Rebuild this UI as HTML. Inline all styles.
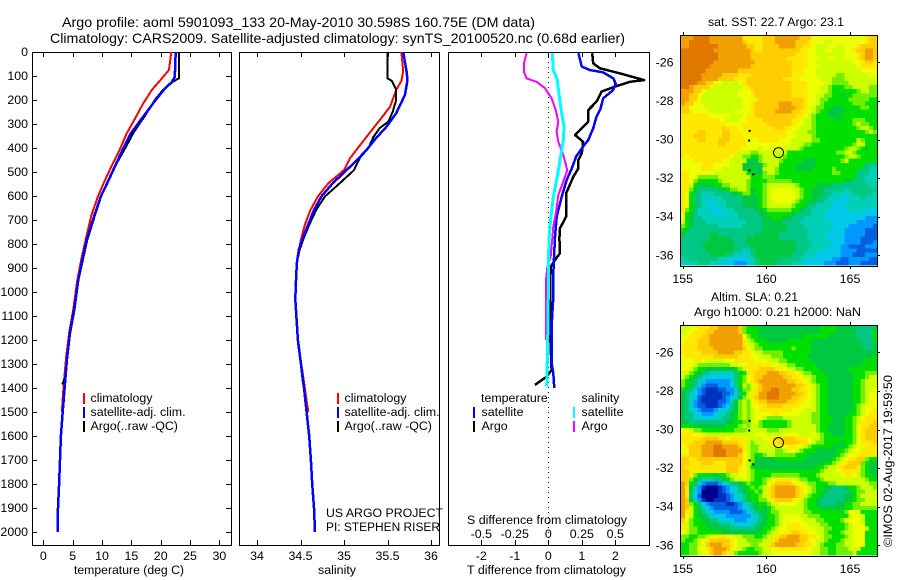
<!DOCTYPE html>
<html lang="en">
<head>
<meta charset="utf-8">
<title>Argo profile 5901093_133</title>
<style>
html,body{margin:0;padding:0;background:#fff;}
svg{display:block;font-family:"Liberation Sans",sans-serif;font-size:12.4px;fill:#000;}
text{fill:#000;}
</style>
</head>
<body>
<svg id="chart" width="900" height="580" viewBox="0 0 900 580" xmlns="http://www.w3.org/2000/svg">
<rect width="900" height="580" fill="#fff"/>
<text x="62" y="27" font-size="14" textLength="473" lengthAdjust="spacingAndGlyphs">Argo profile: aoml 5901093_133 20-May-2010 30.598S 160.75E (DM data)</text>
<text x="50" y="43" font-size="14" textLength="575" lengthAdjust="spacingAndGlyphs">Climatology: CARS2009. Satellite-adjusted climatology: synTS_20100520.nc (0.68d earlier)</text>
<text x="74" y="574" textLength="110" lengthAdjust="spacingAndGlyphs">temperature (deg C)</text>
<text x="318" y="574" textLength="38" lengthAdjust="spacingAndGlyphs">salinity</text>
<text x="467" y="574" textLength="159" lengthAdjust="spacingAndGlyphs">T difference from climatology</text>
<text x="467" y="524" textLength="160" lengthAdjust="spacingAndGlyphs">S difference from climatology</text>
<text x="326" y="517" textLength="117" lengthAdjust="spacingAndGlyphs">US ARGO PROJECT</text>
<text x="326" y="531" textLength="114" lengthAdjust="spacingAndGlyphs">PI: STEPHEN RISER</text>
<text x="708" y="26" textLength="136" lengthAdjust="spacingAndGlyphs">sat. SST: 22.7 Argo: 23.1</text>
<text x="711" y="301" textLength="87" lengthAdjust="spacingAndGlyphs">Altim. SLA: 0.21</text>
<text x="694" y="316" textLength="167" lengthAdjust="spacingAndGlyphs">Argo h1000: 0.21 h2000: NaN</text>
<text transform="translate(892,547) rotate(-90)" textLength="172" lengthAdjust="spacingAndGlyphs">©IMOS 02-Aug-2017 19:59:50</text>
</svg>
<script>
// ---------- profile data (depth in m) ----------
const depthTicks = [0,100,200,300,400,500,600,700,800,900,1000,1100,1200,1300,1400,1500,1600,1700,1800,1900,2000];
const tempTicks = [0,5,10,15,20,25,30];
const salTicks = [34,34.5,35,35.5,36];
const tDiffTicks = [-2,-1,0,1,2];
const sDiffTicks = [-0.5,-0.25,0,0.25,0.5];

const tempClimDepth = [0,20,75,110,158,215,270,339,408,477,540,602,680,783,860,950,1075,1171,1270,1379,1500];
const tempClim = [21.75,21.7,21.4,20.2,18.5,17,15.8,14.2,13,11.6,10.4,9.3,8.2,7.2,6.5,5.8,5.1,4.4,3.9,3.5,3.15];
const tempSatDepth = [0,104,125,153,208,270,339,408,477,540,602,680,783,860,950,1075,1171,1270,1379,1500,1600,1700,1800,1900,2000];
const tempSat = [22.55,22.4,21.9,20.7,18.9,17,14.9,13.5,12.2,11,9.8,8.7,7.4,6.7,5.96,5.28,4.55,4.08,3.7,3.3,3,2.85,2.7,2.5,2.45];
const tempArgoDepth = [0,110,125,158,200,255,339,394,477,540,602,680,783,860,950,1075,1171,1270,1360,1385];
const tempArgo = [23.1,23.1,22,20.4,19,17.6,15.3,14.1,12.2,11,9.85,8.8,7.5,6.8,6,5.2,4.5,4.05,3.7,3.2];

const salClimDepth = [0,80,120,158,228,275,353,442,492,547,602,658,720,783,825,875,930,1030,1200,1400,1500];
const salClim = [35.66,35.68,35.66,35.6,35.53,35.43,35.26,35.07,35,34.82,34.7,34.615,34.55,34.505,34.48,34.46,34.45,34.44,34.47,34.55,34.59];
const salSatDepth = [0,82,117,179,255,311,358,408,450,492,547,602,658,720,783,825,875,930,1030,1200,1400,1500,1600,1700,1800,1900,2000];
const salSat = [35.68,35.72,35.73,35.7,35.6,35.49,35.37,35.26,35.15,35.03,34.87,34.74,34.655,34.586,34.52,34.48,34.46,34.45,34.44,34.47,34.54,34.57,34.6,34.62,34.635,34.655,34.667];
const salArgoDepth = [0,110,120,158,200,249,290,317,353,400,442,492,547,602,658,720,783,825,875,930,1030,1200,1385];
const salArgo = [35.5,35.5,35.55,35.6,35.6,35.56,35.51,35.41,35.34,35.28,35.18,35.115,34.95,34.78,34.68,34.6,34.53,34.49,34.46,34.45,34.44,34.47,34.53];

const tDiffSatDepth = [5,33,61,75,85,110,131,158,193,235,269,318,367,394,436,485,533,603,686,769,922,1019,1144,1297,1339,1401];
const tDiffSat = [0.9,0.95,1,1.24,1.64,1.94,2.01,1.94,1.64,1.56,1.44,1.34,1.19,1.04,0.83,0.7,0.55,0.4,0.25,0.2,0.15,0.15,0.1,0.1,0.15,0.18];
const tDiffArgoDepth = [5,47,68,89,117,124,144,165,207,242,290,318,346,374,422,450,485,519,589,686,735,776,838,867,895,1089,1158,1325,1353,1387];
const tDiffArgo = [1.31,1.34,1.54,2.14,2.86,2.44,1.99,1.59,1.44,1.19,1.19,1,0.8,1.04,1,0.9,0.9,0.75,0.53,0.53,0.35,0.33,0.35,0.2,0.07,0.05,0.05,0.1,-0.05,-0.4];
const sDiffSatDepth = [5,75,117,186,256,311,367,436,519,603,700,769,880,1019,1227,1394];
const sDiffSat = [0.03,0.037,0.067,0.082,0.1,0.117,0.112,0.092,0.067,0.037,0.017,0.007,0,0,-0.005,-0.012];
const sDiffArgoDepth = [5,47,82,110,124,151,193,242,290,332,374,429,492,540,596,672,728,776,852,895,950,1200];
const sDiffArgo = [-0.162,-0.182,-0.182,-0.162,-0.087,-0.025,0.025,0.055,0.075,0.062,0.075,0.112,0.142,0.112,0.075,0.057,0.037,0.03,0.018,-0.007,-0.017,-0.017];

// ---------- map data: each letter a-p is one colour level per grid cell ----------
const mapLonTicks = [155,160,165];
const mapLatTicks = [-26,-28,-30,-32,-34,-36];
const levelColors = ['#000090','#0030c0','#0060e0','#0098ff','#00c8e8','#00d0b8','#00c884','#00c840','#00e000','#70f000','#ccff00','#eeff00','#ffe800','#ffcc00','#f0a000','#e07800'];
const argoLon = 160.75;
const argoLat = -30.598;
const islandLons = [159,158.97,159,159.22];
const islandLats = [-29.5,-30,-31.55,-31.75];
const sstRows = [
"oooppppoooooooommmmmnnnoooooonnnlllllllllllllmnn",
"oopppppoooooooonmmmmnnnooooonnnmlllkkllllllllmnn",
"oopppppppooooooonnmmnnnnoooonnmmlkkkllkklllmnnnn",
"ppppppppooooooooonmmnnnnnnnnnmmllkkllkkkllmnnoon",
"pppppppppoooooooonnnnnnnnnnnmmmllkkkkkkklllmnoon",
"pppppppppoooooooonnnnnnnnnmmmmmlllkkllkklllmnoon",
"ppppppppoooooooooonnnnnnnnnmmmmllkkkkkkkkkllmnnm",
"pppppppoooooooooonnnnnnnnnnmmmmlllkkkkkkkkklmmmm",
"ppppppoooooooonnnnnnnnnnnnnmmmlllkkkkkkkkkkkllll",
"pppppooooonnnnmmmnnnnnnnnnnmmmlllkkkkkjjkkkkkkll",
"pppppoooonnnnmmmnnnnnnnnnmmmmlllllkkkjjjkkkkkkkk",
"ppppoonnllkkkklmnnnnnnnnnnnmmmmllllkkjjjjkkkkkkk",
"pponnnnlkkkkkkklmnnnnnnnnnnmmmmlllkkjiiijjkkkkjj",
"ooonnlkkkkkkkklllmnnnnnnnnnmmmmlllkkjiiiiiijkkjj",
"oonnlkkkkkkkkklllmnnnnnnnnnmmmmllkkjjiihiijjjjjj",
"oonnlkkkkkkkkkklllmnnnnnnnnnnnmllkjjiiiiijjjjjii",
"onnllkkkkkkkkkkllmnnnnnnooonnnmllkjiiiiiiijjjiii",
"nnllllkkkkkkkkkllmnnnnnnoooonnmlkjjiihhhiiiijjii",
"nnmllllkkkkkkllllmnnnnnoooonnmmlkjiihhhhiiiiiiii",
"mmmmmmmlllllkkklmmnnnnnnnnnnmmlkjiiihhhiiiiiiiii",
"mmmmmmmmmllkkkllmmmmnnnnnnnmmlkkjiiiiihiiijjjiii",
"mmmmmmmmmmmllllmmmmmmnnnnnnmllkkjiiiiiiiiijkjjii",
"mmmmmmmmmmnmmmlmmmmmmmmnnmmllkkkjiiiiiiiiiijkkji",
"mmmmnnmmmmnnmmmlmmmmmmmmmmllkkkjjiiiiiiiiiiiijkj",
"mmmnnnmmmmnnmmmllmmmmmmmmmllkkkkjiiiiiiiiiiiiiii",
"mmmmnnmmmnnnmmmmlllmmmmmlllkkkkkjjiiiiiiiiikjiii",
"mmmmmmmmmnnmmmmmlllllllllllkkkjjiiiiiiiiiijkkiii",
"mmmmmmmmmmmmmmmllllklllllkkkkjiiiiiiiiiijkkjihii",
"mmmmmmmmmmmmmmkkkjjkkkkkkkiiiiiiiiiiiijjkkjiiiii",
"mlmmmmmmmmmmlkkjjiijkkkkkjiiiiiiiiiiiiiijkkjiiii",
"lllmmmmmmmllkkkkhhhjkkkkjiiiiihhhiiiiiijkiiiiiii",
"lllllmmmllllkkkhhhhhjkkkiiiihhhhhiiiiiiiiiiiiggg",
"lllllmmmllkkkkkhhhhhkkkjiiiihhhhiiiiijiiiiiiggff",
"mmllllllkkkkkkkkiihhjkkjiiiiiiiiiiiiijjiiiigggff",
"mmlljjjjjkkkkkkkkiiijjjiiiiiiiiiiiiiiiiiiiiggfff",
"mmljiiiiijkkkkkkjiiiijjjjjjiiiiiiiiiiiiihhgggfff",
"mmkihhhhiijjkkkkjiiijkkkkkkkjiiiihhhhgggggggggff",
"mmjhggggghhijjkkjhiijklllllkkjiihhhgggggfggggggg",
"mlihgfffgggghhijjhiijkllllllkjiihhhggfffffgggggf",
"mliggfffffggggghhhhijkllllllkjiihhggfffeefffgfff",
"mliggfeefffgggghhhhijkkllllkjiihhggffeeeefffffff",
"mlihgffeeffgggghhhhijkkkkkkjiihggffffeeeffffffff",
"mjigfffeeefffggggghhijjjjjjiihggffffeeeeeffffeee",
"lihgffffeeefffggggghhiiiiiihggggffffeeeeeeeeeeee",
"lihggfffffffffgggggghhiiihhgggfffffeeeeeeeeeeddd",
"kihgggffffffffffgggghhhhhggggffffffffeeeeeeddddd",
"jihggggggffffffggggghhhhhhggggfffffffeeeeddddddc",
"ihgggggggggggggggggghhhhhhgggggfffffeeeedddddccc",
"hgggggghhggggggggghhhhhhgggggggfffffeeeedddddccc",
"ggggggghhhhhgggghhhhhhhhgggggggfffffeeeeddddcccc",
"gggggghhhhhhhggghhhhhhhhhhhhggggfffffeeeddddcccd",
"ggggghhhhhhhhgggghhhhhhhhhhhggggffffeeeddccccddd",
"gggggghhhhhhhggffghhhhhhhhhhgggffffeeeeddddccccc",
"ggggggghhhhggfeefghhhhhhhhhgggfffeeeeeedddcccddd",
"fggggggggfffeeeeffghhhhhgggggffeeeeeeddccdddddcc",
"ffffgggfffeeedddefghhhhggggfffeeeeedddcccdddcccc"
];
const slaRows = [
"kkllmmmnnooooonjiiihhhhhhhhhhhhhhhiiiihhhhhgggghi",
"kllmmmnnoooooonjiiihhhhhhhhhhhhhhhiiiihhhhhggggii",
"llmmmnnooooooooljiihhhhhhhhhhhiiiiiihhhhhhhggggi",
"lmmmnnnoooooooomkjiiihhhhhiiiiiihhhhhhhhhhhhgggi",
"mmmmnnnoooooooomkkjiiiiiiiiiiiiihhhhhhhhhhhhgggh",
"mmmmnnnnooooooonlkjjiiiiiiijiiiihhhhhhhhhhhhhggh",
"mmmmmnnnnoooonnmmlkkjjjjjiiiiiiihhhhhhhhhhhhhhhh",
"lmmmmmmmnnnnnnmmmllkkkjjjiiiiiihhhhhhhhhhhhhhhhi",
"lllmmlkkkkkllmmmmmlllkkkjjiiiiiihhhhhhhhhhhhhiii",
"lllkjjjjjjjjkkllmmmmmmllkkjjiiiiihhhhhhhhhhhiiii",
"llkjiihhhhhhhijkmmmnnnnmmlkkjjiiiihhhhhhhiiiiiii",
"kkjihggffffffghimmnnnooonnmmlkjjiiihhhhhhhiiijjj",
"kjihgfeeeeeefgijlmnnooooonnmmlkkjiiihhhhhhiiijkk",
"jihgfeddddddegijlmnooooooonnmmlkjiiihhhhhhiijkkk",
"jihgedcccdddegikjlmnoooooooonnmlkjiihhhhhhiijkkk",
"ihgedcbbbccddfhjjkmnooppooonnmmlkjiihhhhhhiijkkl",
"hgfedcbbbbccdegikmmoopppoooonnmlkjiihhhhhhiijkll",
"hgfecbbbbbcdefhjkmnoopppooonnmmlkjiihhhhhhiijkll",
"hgfdcbbbbccdfhjkjlmnnooooonnmmllkjiihhhhhhiijkll",
"hgedccbbbcdeghjkjllmmnnnnmmmmlllkjiihhhhhhijklll",
"hgfedcccdeefghjkjklmmmmmmmmlllkkkjiihhhhhhijkllm",
"hggeedddeffghijkjkllllmmlllllkkkjjiihhhhhiijklmm",
"hggffeeeffgghijkjkllkjjjjkkkkkkkjjiiihhhiijklmmm",
"hhggggggggghhiijjkljiiiiiijkkkkkjjiiihhhiijkmmmn",
"iiihhhhhhhhiiijkjkkjiiiiiijkkkkkkjiihhhhiijlmmnn",
"llkjjiiiiiiiijjjkkkkkjjjkkkkkkkkkjiihhhhiijlmnnn",
"mmmlllkkkkkkkkkkkklllkkkkllllkkklkjiihhhiijlmnnn",
"mmmmmnnnnmmlmmmmkkkkllmmmnnnmmmlkkjiiiiiiijlmnnn",
"mmmnnnoooonnnnmmkjkkkmmmnnnnnmmlkjjiiiihiijlmmmn",
"lmnnnoooppoooonmkjjkkkklllmmllkjiiiiihhhijkllmmm",
"llnnnooopppoooomkjjkkkkjjkllkjiiihhhhhiijkllmmmm",
"mmnnnooopppooonlkjiijkkjjjjjiiihhhhhhhijkllmmmmm",
"nnmmnnnnnnnnnnnlkjhhhhhiiiiiiihhhhhhhijklmmnnjii",
"nnmmmnnnmmmnnnnlkjhhhhhhhhhhhhhhhhhiijklmnnnjihh",
"nmmmmmmmmmmnnnmlkihhhhhhhhhhhhhhhiijkkmmnnnmjihh",
"nnmmmmmmmmmnnnmlkjiiiiiiiiiiiiiiiijkkklmmmmkjihh",
"nnmjiiiihiijkkllkjiiiijjjjjjjiiiijkkkkklmmlkjiih",
"nnjhgfffgghijkklkjiijklmmmmlkjjiiijkkkkkkkkkkjii",
"onihedcccdefgghijiiijlmnnnnmllkjjiiijjkkkkkkkkjj",
"omhfdbaaabcdefghijijkmnooooonmlkjiihhggghiijkkkjj",
"omhedaaaabcdefghiijikmnooooonmlkjiihggggghijjkkk",
"omgecaaaabbcdefghiijkmnooooonmkjiihggggghhijkkkk",
"onhfdbaabbbcdefghiijjkmnnnnmlkjiihgggggghhijjkkk",
"onjigedccccbbcdefghiijkkllllkkjiihgggghhiijjkkkk",
"onkihfedccccccdefghihijkkkkkkkjiiihhhhhhiijjjjjj",
"olkihgfeddddcccdefghhijjkkkkkkjjiiiiiiiijllliiii",
"olkihhgfeeeddddddefghiijkllllkkjjjiiiiiiikllkiii",
"nljiihhggfeeedddeefghiijklllllkkkjjiiiijllllkiii",
"mkjiiihhhgggffeeefghhiijklmmmllkkkjjiiiijkllliii",
"mkjjiiihhhhhgggggghhiijkllmmmmlllkkjjiiijklllkii",
"lkjjiiiiiihhhhhhhhhhijkklmmnnmmllkkjiiijkkllliii",
"jjiijjkllmmllkkjjjiijkkmnnooonnmmlkjjiiijkllliii",
"jiijklmnnnnnmlkkjjjjkkmnooooonnmlkkjiiijkkllliii",
"iijjklnooonnmlkkkjjkkmnooooonnmmlkjiiijjkkllliii",
"iijjllmnooonmlkjiijjkkllmmmmmmmlkkjjiijjjkkkiiii",
"iijjkllnoonmkjiiiiijkkllllllllllkkjjiijjjjkiiiii"
];

// ---------- axis functions ----------
const yD = d => 52 + d * 0.24;
const xT = v => 43.3 + v * 5.87;
const xS = v => 257 + (v - 34) * 87;
const xDT = v => 548.3 + v * 33.5;
const xDS = v => 548.3 + v * 134;
const lonX = lon => 682.7 + (lon - 155) * 16.73;
const latOffset = lat => 62.3 + (-26 - lat) * 19.3;

const NS = 'http://www.w3.org/2000/svg';
const svg = document.getElementById('chart');
function addLine(x1, y1, x2, y2, color, width) {
  const el = document.createElementNS(NS, 'line');
  el.setAttribute('x1', x1);
  el.setAttribute('y1', y1);
  el.setAttribute('x2', x2);
  el.setAttribute('y2', y2);
  el.setAttribute('stroke', color);
  el.setAttribute('stroke-width', width);
  el.setAttribute('shape-rendering', 'crispEdges');
  svg.appendChild(el);
  return el;
}
function addText(x, y, str, anchor) {
  const el = document.createElementNS(NS, 'text');
  el.setAttribute('x', x);
  el.setAttribute('y', y);
  el.setAttribute('text-anchor', anchor || 'start');
  el.textContent = str;
  svg.appendChild(el);
  return el;
}
function addSeries(depths, values, xFn, color, width) {
  const el = document.createElementNS(NS, 'polyline');
  el.setAttribute('points', depths.map((d, i) => xFn(values[i]).toFixed(1) + ',' + yD(d).toFixed(1)).join(' '));
  el.setAttribute('fill', 'none');
  el.setAttribute('stroke', color);
  el.setAttribute('stroke-width', width);
  el.setAttribute('stroke-linejoin', 'round');
  el.setAttribute('shape-rendering', 'crispEdges');
  svg.appendChild(el);
  return el;
}
function addFrame(x, y, w, h) {
  const el = document.createElementNS(NS, 'rect');
  el.setAttribute('x', x);
  el.setAttribute('y', y);
  el.setAttribute('width', w);
  el.setAttribute('height', h);
  el.setAttribute('fill', 'none');
  el.setAttribute('stroke', '#000');
  el.setAttribute('stroke-width', 1);
  el.setAttribute('shape-rendering', 'crispEdges');
  svg.appendChild(el);
  return el;
}

// ---------- panels ----------
const PT = 52, PB = 545;
const panelBoxes = [[32, 199], [239, 200], [448, 201]];
panelBoxes.forEach(function (b, i) {
  const f = addFrame(b[0] + 0.5, PT + 0.5, b[1], PB - PT);
  
  
});

depthTicks.forEach(function (d) {
  const t = addText(28, yD(d) + 4, String(d), 'end');
  
  
  if (d > 0) {
    const l = addLine(32, Math.round(yD(d)) + 0.5, 37, Math.round(yD(d)) + 0.5, '#000', 1);
    
    
    const r = addLine(226, Math.round(yD(d)) + 0.5, 231, Math.round(yD(d)) + 0.5, '#000', 1);
    
    
  }
});

function vTicks(vals, xFn, name) {
  vals.forEach(function (v) {
    const x = Math.round(xFn(v)) + 0.5;
    const a = addLine(x, PT, x, PT + 5, '#000', 1);
    
    
    const b = addLine(x, PB - 5, x, PB, '#000', 1);
    
    
  });
}
vTicks(tempTicks, xT, 'temperature');
vTicks(salTicks, xS, 'salinity');
vTicks(tDiffTicks, xDT, 't-difference');

tempTicks.forEach(function (v) {
  const t = addText(xT(v), 560, String(v), 'middle');
  
  
});
salTicks.forEach(function (v) {
  const t = addText(xS(v), 560, String(v), 'middle');
  
  
});
tDiffTicks.forEach(function (v) {
  const t = addText(xDT(v), 560, String(v), 'middle');
  
  
});
sDiffTicks.forEach(function (v) {
  const t = addText(xDS(v), 538, String(v), 'middle');
  
  
});

const zeroLine = addLine(548.5, PT, 548.5, PB, '#000', 1);
zeroLine.setAttribute('stroke-dasharray', '1 4');



// ---------- series ----------
let s;
s = addSeries(tempClimDepth, tempClim, xT, '#ff0000', 2);


s = addSeries(tempArgoDepth, tempArgo, xT, '#000000', 2);


s = addSeries(tempSatDepth, tempSat, xT, '#0000ff', 2.5);


s = addSeries(salClimDepth, salClim, xS, '#ff0000', 2);


s = addSeries(salArgoDepth, salArgo, xS, '#000000', 2);


s = addSeries(salSatDepth, salSat, xS, '#0000ff', 2.5);


s = addSeries(tDiffArgoDepth, tDiffArgo, xDT, '#000000', 2.5);


s = addSeries(tDiffSatDepth, tDiffSat, xDT, '#0000ff', 2.5);


s = addSeries(sDiffArgoDepth, sDiffArgo, xDS, '#ff00ff', 2);


s = addSeries(sDiffSatDepth, sDiffSat, xDS, '#00ffff', 3);



// ---------- legends ----------
const legendLabels = ['climatology', 'satellite-adj. clim.', 'Argo(..raw -QC)'];
const legendColors = ['#ff0000', '#0000ff', '#000000'];
[[84, 90.5], [338, 344.5]].forEach(function (pos) {
  legendLabels.forEach(function (label, i) {
    const y = 402 + i * 14;
    const m = addLine(pos[0], y - 9, pos[0], y + 2, legendColors[i], 2);
    
    
    const t = addText(pos[1], y, label);
    
    
  });
});
const diffLegendLabels = ['satellite', 'Argo'];
const tempLegendColors = ['#0000ff', '#000000'];
const salLegendColors = ['#00ffff', '#ff00ff'];
const head1 = addText(481, 402, 'temperature');


const head2 = addText(581.5, 402, 'salinity');


diffLegendLabels.forEach(function (label, i) {
  const y = 416 + i * 14;
  const a = addLine(474, y - 9, 474, y + 2, tempLegendColors[i], 2);
  
  
  const b = addText(481.5, y, label);
  
  
  const c = addLine(574, y - 9, 574, y + 2, salLegendColors[i], 2);
  
  
  const e = addText(581.5, y, label);
  
  
});

// ---------- maps ----------
const COLS = 48, ROWS = 56;
function drawMap(rows, top, name) {
  const cw = 196 / COLS, ch = 229 / ROWS;
  rows.forEach(function (row, r) {
    const str = row.slice(0, COLS).padEnd(COLS, row[row.length - 1]);
    for (let c = 0; c < COLS; c++) {
      const rect = document.createElementNS(NS, 'rect');
      rect.setAttribute('x', (681 + c * cw).toFixed(2));
      rect.setAttribute('y', (top + 1 + r * ch).toFixed(2));
      rect.setAttribute('width', (cw + 0.3).toFixed(2));
      rect.setAttribute('height', (ch + 0.3).toFixed(2));
      rect.setAttribute('fill', levelColors[str.charCodeAt(c) - 97]);
      rect.setAttribute('shape-rendering', 'crispEdges');
      
      
      svg.appendChild(rect);
    }
  });
  const f = addFrame(680.5, top + 0.5, 197, 231);
  
  

  mapLonTicks.forEach(function (lon) {
    const x = Math.round(lonX(lon)) + 0.5;
    const a = addLine(x, top - 3, x, top, '#000', 1);
    
    
    const b = addLine(x, top + 231, x, top + 234, '#000', 1);
    
    
    const t = addText(lonX(lon), top + 248, String(lon), 'middle');
    
    
  });
  mapLatTicks.forEach(function (lat) {
    const y = top - 35 + latOffset(lat);
    const a = addLine(877, Math.round(y) + 0.5, 880, Math.round(y) + 0.5, '#000', 1);
    
    
    const t = addText(673.5, y + 4, String(lat), 'end');
    
    
  });

  const circle = document.createElementNS(NS, 'circle');
  circle.setAttribute('cx', lonX(argoLon) - 0.4);
  circle.setAttribute('cy', top - 35 + latOffset(argoLat) + 1.6);
  circle.setAttribute('r', 5);
  circle.setAttribute('fill', 'none');
  circle.setAttribute('stroke', '#000');
  
  
  svg.appendChild(circle);

  islandLons.forEach(function (lon, i) {
    const dot = document.createElementNS(NS, 'rect');
    dot.setAttribute('x', lonX(lon) - 1);
    dot.setAttribute('y', top - 35 + latOffset(islandLats[i]));
    dot.setAttribute('width', 2);
    dot.setAttribute('height', 2);
    dot.setAttribute('fill', '#000');
    
    
    svg.appendChild(dot);
  });
}
drawMap(sstRows, 35, 'sst-map');
drawMap(slaRows, 325, 'sla-map');
</script>
</body>
</html>
